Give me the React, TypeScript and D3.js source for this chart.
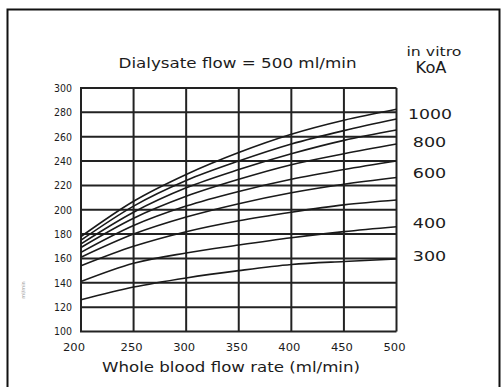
import React from "react";
import * as d3 from "d3";

// Blood flow rates (x) where curves are read
const bloodFlow = [200, 250, 300, 350, 400, 450, 500];

// Clearance curves (ml/min), lowest to highest KoA
const curveA = [126, 136.5, 144, 150, 155, 157.5, 159.5];
const curveB = [141, 156, 164.5, 171, 177, 182, 186];
const curveC = [154, 170, 182, 191, 198, 204, 208];
const curveD = [161, 180, 194, 205, 214, 221, 226.5];
const curveE = [165, 187, 203, 215, 225, 233, 240];
const curveF = [169, 193, 211, 225, 237, 246, 254];
const curveG = [172, 198, 218, 233, 246, 257, 265.5];
const curveH = [175, 203, 224, 240, 254, 265, 274.5];
const curveI = [178, 207, 229, 247, 262, 273.5, 282.5];
const curves = [curveA, curveB, curveC, curveD, curveE, curveF, curveG, curveH, curveI];

const xTicks = [200, 250, 300, 350, 400, 450, 500];
const yTicks = [100, 120, 140, 160, 180, 200, 220, 240, 260, 280, 300];

// KoA labels with the value level they sit at
const koaLabels = ["1000", "800", "600", "400", "300"];
const koaLabelLevels = [278.5, 256, 230.5, 189.5, 162];

const title = "Dialysate flow = 500 ml/min";
const xTitle = "Whole blood flow rate (ml/min)";

export default function App() {
  const W = 501, H = 387;
  const left = 81, right = 396.5, top = 88, bottom = 331.5;
  const x = d3.scaleLinear().domain([200, 500]).range([left, right]);
  const y = d3.scaleLinear().domain([100, 300]).range([bottom, top]);
  const line = d3
    .line<number>()
    .x((_, i) => x(bloodFlow[i]))
    .y((d) => y(d))
    .curve(d3.curveMonotoneX);
  const font = "'DejaVu Sans', Verdana, sans-serif";
  const ink = "#1c1c1c";

  return (
    <svg
      width={W}
      height={H}
      style={{ position: "absolute", left: 0, top: 0, background: "#fff", display: "block" }}
      fontFamily={font}
    >
      <rect x={0} y={0} width={W} height={H} fill="#fff" />
      {/* outer frame */}
      <path d={`M7.5,${H} V9.5 H499.5 V${H}`} fill="none" stroke="#111" strokeWidth={2} />

      {/* grid */}
      {yTicks.map((t) => (
        <line key={"gy" + t} x1={left - 1} x2={right} y1={y(t)} y2={y(t)} stroke="#222" strokeWidth={2} />
      ))}
      {xTicks.map((t) => (
        <line key={"gx" + t} x1={x(t)} x2={x(t)} y1={top} y2={bottom} stroke="#222" strokeWidth={2} />
      ))}

      {/* curves */}
      {curves.map((c, i) => (
        <path key={"c" + i} d={line(c) || ""} fill="none" stroke="#1a1a1a" strokeWidth={1.6} />
      ))}

      {/* y tick labels */}
      {yTicks.map((t) => (
        <text key={"ty" + t} x={72} y={y(t) + 3.8} textAnchor="end" fontSize={10.5} fill={ink}
          textLength={18} lengthAdjust="spacingAndGlyphs">
          {t}
        </text>
      ))}
      {/* x tick labels */}
      {xTicks.map((t, i) => (
        <text key={"tx" + t} x={x(t) - (i === 0 ? 7 : 2)} y={351} textAnchor="middle" fontSize={11} fill={ink}
          textLength={22} lengthAdjust="spacingAndGlyphs">
          {t}
        </text>
      ))}

      {/* titles */}
      <text x={237.5} y={68} textAnchor="middle" fontSize={14.5} fill={ink} textLength={238} lengthAdjust="spacingAndGlyphs">
        {title}
      </text>
      <text x={231} y={372} textAnchor="middle" fontSize={14} fill={ink} textLength={258} lengthAdjust="spacingAndGlyphs">
        {xTitle}
      </text>
      <text x={434} y={55.5} textAnchor="middle" fontSize={13} fill={ink} textLength={55} lengthAdjust="spacingAndGlyphs">
        in vitro
      </text>
      <text x={431} y={73} textAnchor="middle" fontSize={15} fill={ink} textLength={31} lengthAdjust="spacingAndGlyphs">
        KoA
      </text>

      {/* KoA labels */}
      {koaLabels.map((lab, i) => (
        <text key={"k" + lab} x={lab.length === 4 ? 430 : 429.5} y={y(koaLabelLevels[i]) + 5} textAnchor="middle"
          fontSize={13.5} fill={ink} textLength={lab.length === 4 ? 44 : 33.5} lengthAdjust="spacingAndGlyphs">
          {lab}
        </text>
      ))}

      {/* faint scan remnants of a cropped vertical label */}
      <text x={25} y={290} transform="rotate(-90 25 290)" textAnchor="middle" fontSize={5} fill="#999">
        ml/min
      </text>
    </svg>
  );
}
